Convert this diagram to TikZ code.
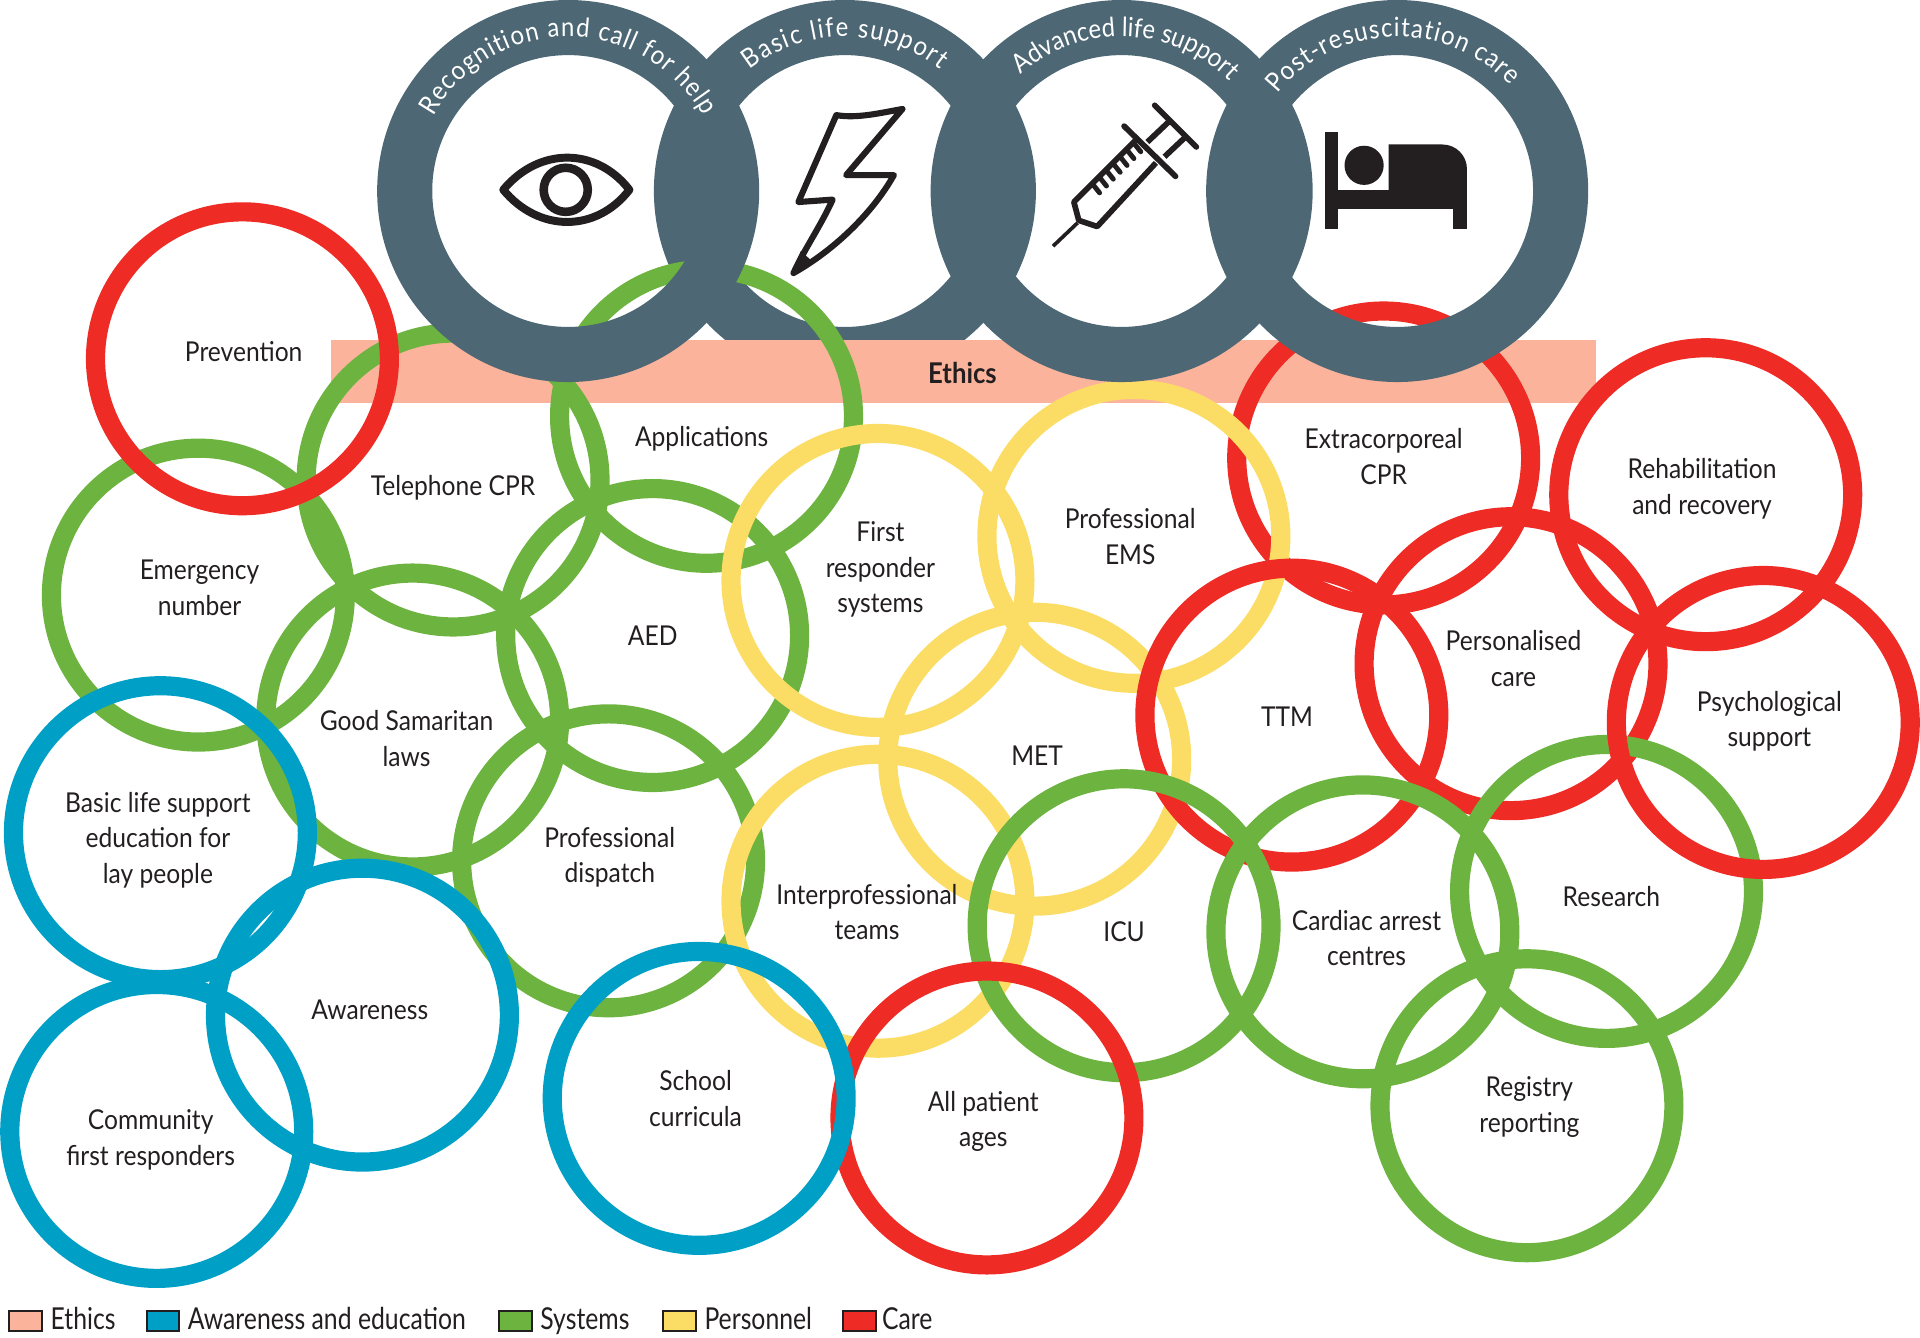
\documentclass[tikz,border=0pt]{standalone}
\usepackage{fontspec}
\setmainfont[FakeStretch=0.9]{Lato}
\newfontfamily\legendfont[FakeStretch=0.82]{Lato}
\usetikzlibrary{decorations.text}

\definecolor{ethicscol}{HTML}{FBB49B}
\definecolor{awarecol}{HTML}{00A0C6}
\definecolor{systemscol}{HTML}{6DB33F}
\definecolor{personcol}{HTML}{FBDD65}
\definecolor{carecol}{HTML}{EE2B24}
\definecolor{chaincol}{HTML}{4D6874}
\definecolor{iconcol}{HTML}{231F20}
\newcommand{\ringfont}{\color{white}\fontsize{13}{14}\selectfont}

\begin{document}
\begin{tikzpicture}[x=0.6pt,y=-0.6pt,
    ring/.style={line width=9.4pt,radius=120},
    chainring/.style={draw=chaincol,line width=27pt,radius=133.5},
    topic/.style={align=center,font=\fontsize{13.4}{17.4}\selectfont,text=iconcol,inner sep=0pt},
    icon/.style={draw=iconcol,line join=round,line cap=round},
    swatch/.style={draw=iconcol,line width=1pt,minimum width=16pt,minimum height=10pt,inner sep=0pt},
    legendtext/.style={anchor=base west,font=\legendfont\fontsize{14.8}{16}\selectfont,text=iconcol,inner sep=0pt}]
    \useasboundingbox (0,0) rectangle (1568,1092);

    % chain of survival, second ring sits behind the ethics bar
    \draw[chainring] (690,156) circle;
    \fill[ethicscol] (270,278) rectangle (1303,329);

    % systems
    \draw[ring,systemscol] (370,392) circle;
    \draw[ring,systemscol] (577,340) circle;
    \draw[ring,systemscol] (162,486) circle;
    \draw[ring,systemscol] (533,519) circle;
    \draw[ring,systemscol] (337,588) circle;
    \draw[ring,systemscol] (497,703) circle;
    \draw[ring,carecol] (198,293) circle;
    \draw[ring,carecol] (1130,374) circle;

    % personnel
    \draw[ring,personcol] (717,474) circle;
    \draw[ring,personcol] (926,438) circle;
    \draw[ring,personcol] (845,620) circle;
    \draw[ring,personcol] (717,736) circle;

    % care
    \draw[ring,carecol] (1055,584) circle;
    \draw[ring,carecol] (1234,542) circle;
    \draw[ring,carecol] (1393,404) circle;

    \draw[ring,systemscol] (918,756) circle;
    \draw[ring,systemscol] (1113,761) circle;
    \draw[ring,systemscol] (1312,728) circle;
    \draw[ring,systemscol] (1247,903) circle;

    \draw[ring,carecol] (1440,590) circle;
    \draw[ring,carecol] (806,913) circle;

    % awareness and education
    \draw[ring,awarecol] (131,680) circle;
    \draw[ring,awarecol] (296,829) circle;
    \draw[ring,awarecol] (128,924) circle;
    \draw[ring,awarecol] (571,897) circle;

    \draw[chainring] (464,156) circle;
    \draw[chainring] (916,156) circle;
    \draw[chainring] (1141,156) circle;

    % ring titles
    \path[decorate,decoration={text along path,text align={fit to path},text={|\ringfont|Recognition and call for help}}]
        (464,156) ++(-151:126) arc[start angle=-151,end angle=-29,radius=126];
    \path[decorate,decoration={text along path,text align={fit to path},text={|\ringfont|Basic life support}}]
        (690,156) ++(-128:126) arc[start angle=-128,end angle=-52,radius=126];
    \path[decorate,decoration={text along path,text align={fit to path},text={|\ringfont|Advanced life support}}]
        (916,156) ++(-131:126) arc[start angle=-131,end angle=-47,radius=126];
    \path[decorate,decoration={text along path,text align={fit to path},text={|\ringfont|Post-resuscitation care}}]
        (1141,156) ++(-141:126) arc[start angle=-141,end angle=-43,radius=126];

    % eye
    \draw[icon,line width=3.9pt] (411,155) .. controls (440,120) and (487,120) .. (514,155)
        .. controls (487,190) and (440,190) .. cycle;
    \draw[icon,line width=4.2pt] (462,155) circle[radius=18];

    % bolt
    \draw[icon,line width=3pt] (683,94) .. controls (700,97) and (720,92) .. (737,89)
        -- (691,143) -- (730,143) .. controls (712,175) and (680,205) .. (648,223)
        .. controls (656,205) and (670,185) .. (680,163) -- (652,165) -- cycle;
    \fill[iconcol] (646,224) -- (654,205) -- (664,214) -- cycle;

    % syringe
    \draw[icon,line width=2.8pt] (943,86) -- (977,120);
    \draw[icon,line width=2.8pt] (918,103) -- (960,144);
    \draw[icon,line width=2.8pt,line cap=butt] (937,116) -- (956,98);
    \draw[icon,line width=2.8pt,line cap=butt] (951,128) -- (968,112);
    \draw[icon,line width=2.8pt,line cap=butt] (929,113) -- (877,165) -- (881,180) -- (896,185) -- (944,133);
    \draw[icon,line width=1.8pt,line cap=butt] (880,182) -- (860,201);
    \foreach \tick in {0,...,6}
        \draw[icon,line width=2.4pt] (892+5.6*\tick,150-5.6*\tick) -- ++(6,7.5);

    % bed
    \fill[iconcol] (1082,108) rectangle (1093,187);
    \fill[iconcol] (1093,155) rectangle (1198,171);
    \fill[iconcol] (1187,171) rectangle (1198,187);
    \fill[iconcol] (1134,155) -- (1134,118) -- (1178,118) arc[start angle=-90,end angle=0,radius=20] -- (1198,155) -- cycle;
    \fill[iconcol] (1114,135) circle[radius=16];

    % texts
    \node[topic,font=\bfseries\fontsize{14}{17.4}\selectfont] (ethics) at (786,305) {Ethics};
    \node[topic] (prevention) at (199,287) {Prevention};
    \node[topic] (telephone) at (370,398) {Telephone CPR};
    \node[topic] (applications) at (573,358) {Applications};
    \node[topic] (emergency) at (163,480) {Emergency\\number};
    \node[topic] (aed) at (533,519) {AED};
    \node[topic] (samaritan) at (332,603) {Good Samaritan\\laws};
    \node[topic] (responder) at (719,465) {First\\responder\\systems};
    \node[topic] (ems) at (923,438) {Professional\\EMS};
    \node[topic] (ecpr) at (1130,373) {Extracorporeal\\CPR};
    \node[topic] (rehab) at (1390,399) {Rehabilitation\\and recovery};
    \node[topic] (personalised) at (1236,538) {Personalised\\care};
    \node[topic] (ttm) at (1051,585) {TTM};
    \node[topic] (psych) at (1445,589) {Psychological\\support};
    \node[topic] (met) at (847,617) {MET};
    \node[topic] (blseducation) at (129,686) {Basic life support\\education for\\lay people};
    \node[topic] (dispatch) at (498,700) {Professional\\dispatch};
    \node[topic] (teams) at (708,745) {Interprofessional\\teams};
    \node[topic] (icu) at (918,761) {ICU};
    \node[topic] (arrest) at (1116,766) {Cardiac arrest\\centres};
    \node[topic] (research) at (1316,732) {Research};
    \node[topic] (awareness) at (302,825) {Awareness};
    \node[topic] (community) at (123,931) {Community\\first responders};
    \node[topic] (school) at (568,897) {School\\curricula};
    \node[topic] (ages) at (803,916) {All patient\\ages};
    \node[topic] (registry) at (1249,904) {Registry\\reporting};

    % legend
    \node[swatch,fill=ethicscol] (swatchethics) at (21,1079) {};
    \node[legendtext] (keyethics) at (41,1086) {Ethics};
    \node[swatch,fill=awarecol] (swatchaware) at (133,1079) {};
    \node[legendtext] (keyaware) at (153,1086) {Awareness and education};
    \node[swatch,fill=systemscol] (swatchsystems) at (421,1079) {};
    \node[legendtext] (keysystems) at (441,1086) {Systems};
    \node[swatch,fill=personcol] (swatchperson) at (555,1079) {};
    \node[legendtext] (keyperson) at (575,1086) {Personnel};
    \node[swatch,fill=carecol] (swatchcare) at (702,1079) {};
    \node[legendtext] (keycare) at (720,1086) {Care};
\end{tikzpicture}
\end{document}
